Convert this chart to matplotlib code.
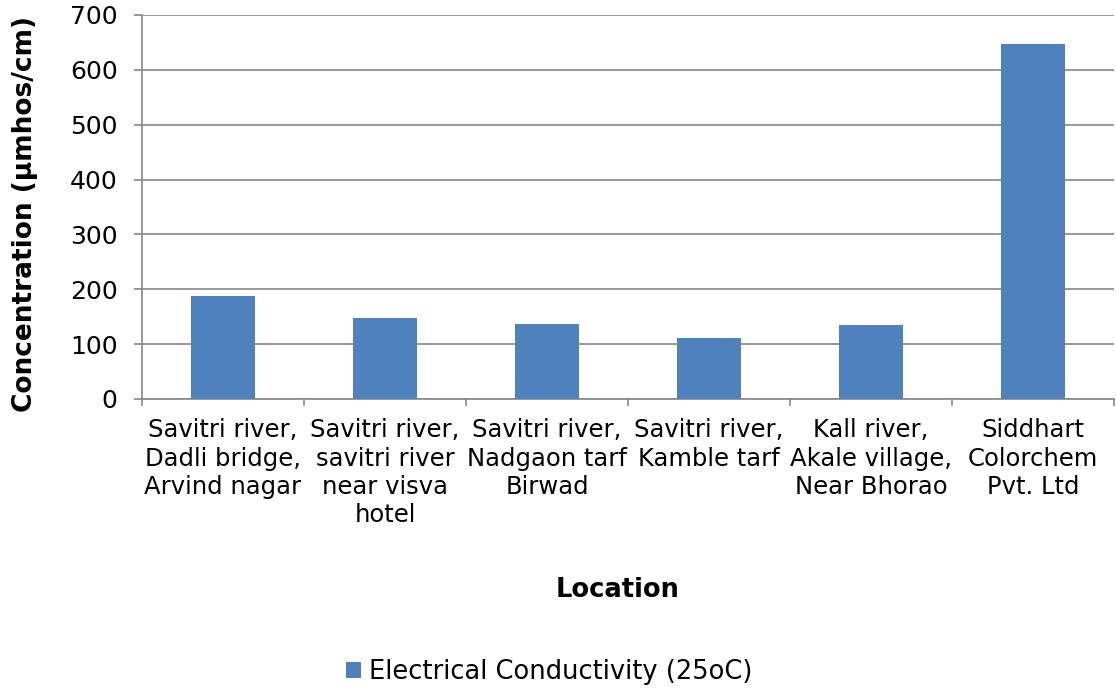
import matplotlib

matplotlib.use("Agg")
import matplotlib.pyplot as plt
import numpy as np

locations = [
    "Savitri river,\nDadli bridge,\nArvind nagar",
    "Savitri river,\nsavitri river\nnear visva\nhotel",
    "Savitri river,\nNadgaon tarf\nBirwad",
    "Savitri river,\nKamble tarf",
    "Kall river,\nAkale village,\nNear Bhorao",
    "Siddhart\nColorchem\nPvt. Ltd",
]
conductivity = [188, 148, 137, 112, 134, 647]
yticks = [0, 100, 200, 300, 400, 500, 600, 700]

BAR_C = "#4f81bd"
GRID_C = "#868686"

plt.rcParams.update({"font.family": "DejaVu Sans", "font.size": 12})

fig = plt.figure(figsize=(11.16, 6.9), dpi=100)
ax = fig.add_axes([142 / 1116, 1 - 399 / 690, (1114 - 142) / 1116, (399 - 15) / 690])

x = np.arange(len(locations))
ax.bar(x, conductivity, width=0.4, color=BAR_C, zorder=3,
       label="Electrical Conductivity (25oC)")

ax.set_xlim(-0.5, len(locations) - 0.5)
ax.set_ylim(0, 700)
ax.set_yticks(yticks)
ax.tick_params(axis="y", labelsize=18, length=5.5, width=1.2, color=GRID_C,
               direction="out", pad=12)
ax.set_xticks(x)
ax.set_xticklabels(locations, linespacing=1.22)
ax.tick_params(axis="x", length=0, labelsize=17.5, pad=14)
ax.set_xticks(np.arange(-0.5, len(locations)), minor=True)
ax.tick_params(axis="x", which="minor", length=5, color=GRID_C, width=1.2)

ax.grid(axis="y", color=GRID_C, lw=1.2, zorder=0)
ax.set_axisbelow(True)
for s in ["top", "right"]:
    ax.spines[s].set_visible(False)
for s in ["left", "bottom"]:
    ax.spines[s].set_color(GRID_C)
    ax.spines[s].set_linewidth(1.2)

fig.text(25 / 1116, 1 - 214 / 690, "Concentration (µmhos/cm)", fontsize=19,
         fontweight="bold", rotation=90, ha="center", va="center")
fig.text(618 / 1116, 1 - 590 / 690, "Location", fontsize=18.5, fontweight="bold",
         ha="center", va="center")

fig.legend(loc="center", bbox_to_anchor=(549 / 1116, 1 - 672 / 690), frameon=False,
           fontsize=18.5, handlelength=0.6, handleheight=0.6, handletextpad=0.3)

fig.savefig("out.png", dpi=100)
